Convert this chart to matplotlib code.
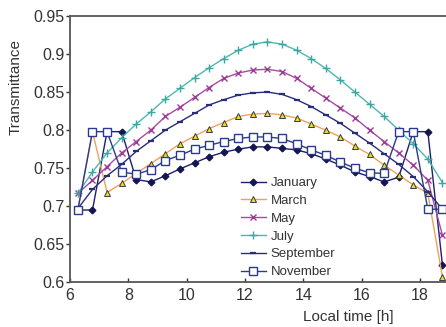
import matplotlib
matplotlib.use("Agg")
import matplotlib.pyplot as plt
from matplotlib.ticker import FixedLocator, FixedFormatter

plt.rcParams['font.family'] = ['Liberation Sans', 'DejaVu Sans']

time_h = [6.27, 6.77, 7.27, 7.77, 8.27, 8.77, 9.27, 9.77, 10.27, 10.77, 11.27, 11.77, 12.27,
          12.77, 13.27, 13.77, 14.27, 14.77, 15.27, 15.77, 16.27, 16.77, 17.27, 17.77, 18.27, 18.77]

january = [0.695, 0.695, 0.798, 0.798, 0.735, 0.732, 0.740, 0.749, 0.757, 0.765, 0.771, 0.775, 0.778,
           0.778, 0.776, 0.774, 0.769, 0.762, 0.754, 0.745, 0.739, 0.732, 0.738, 0.798, 0.798, 0.623]
march = [0.697, 0.798, 0.718, 0.730, 0.743, 0.756, 0.769, 0.782, 0.792, 0.802, 0.810, 0.818, 0.821,
         0.822, 0.820, 0.816, 0.808, 0.800, 0.791, 0.779, 0.768, 0.754, 0.741, 0.728, 0.717, 0.607]
may = [0.717, 0.734, 0.752, 0.770, 0.785, 0.800, 0.818, 0.830, 0.843, 0.856, 0.868, 0.875, 0.879,
       0.880, 0.877, 0.868, 0.855, 0.842, 0.829, 0.816, 0.800, 0.785, 0.770, 0.754, 0.734, 0.662]
july = [0.717, 0.745, 0.770, 0.790, 0.808, 0.824, 0.841, 0.855, 0.869, 0.882, 0.894, 0.905, 0.913,
        0.916, 0.913, 0.905, 0.894, 0.881, 0.866, 0.850, 0.834, 0.818, 0.800, 0.782, 0.762, 0.731]
september = [0.697, 0.722, 0.740, 0.755, 0.772, 0.786, 0.800, 0.811, 0.822, 0.833, 0.840, 0.846, 0.849,
             0.850, 0.847, 0.840, 0.831, 0.820, 0.809, 0.796, 0.783, 0.769, 0.755, 0.739, 0.719, 0.696]
november = [0.695, 0.798, 0.798, 0.745, 0.742, 0.748, 0.760, 0.767, 0.775, 0.780, 0.785, 0.789, 0.791,
            0.791, 0.789, 0.782, 0.774, 0.767, 0.758, 0.750, 0.744, 0.743, 0.798, 0.798, 0.696, 0.696]

x_ticks = [6, 8, 10, 12, 14, 16, 18]
y_ticks = [0.6, 0.65, 0.7, 0.75, 0.8, 0.85, 0.9, 0.95]
y_tick_labels = ["0.6", "0.65", "0.7", "0.75", "0.8", "0.85", "0.9", "0.95"]

fig = plt.figure(figsize=(4.46, 3.27), dpi=100)
ax = fig.add_axes([0.157, 0.1367, 0.85, 0.8144])

ax.plot(time_h, january, color='#1c1f6b', lw=1.0, marker='D', ms=3.4,
        mfc='#141650', mec='#141650', label='January')
ax.plot(time_h, march, color='#f0a060', lw=1.0, marker='^', ms=4.8,
        mfc='#e6e01e', mec='#3a3a3a', mew=0.7, label='March')
ax.plot(time_h, may, color='#a64aa6', lw=1.0, marker='x', ms=5, mew=1.0,
        mec='#a03a9a', label='May')
ax.plot(time_h, july, color='#4cb8b0', lw=1.0, marker='+', ms=6, mew=1.0,
        mec='#3aa8a0', label='July')
ax.plot(time_h, september, color='#2a2d78', lw=1.0, marker='_', ms=5, mew=1.6,
        mec='#2a2d78', label='September')
ax.plot(time_h, november, color='#2b3a8c', lw=1.0, marker='s', ms=5.2,
        mfc='white', mec='#2b3a8c', mew=1.0, label='November')

ax.set_xlim(6, 19)
ax.set_ylim(0.6, 0.95)
ax.xaxis.set_major_locator(FixedLocator(x_ticks))
ax.yaxis.set_major_locator(FixedLocator(y_ticks))
ax.yaxis.set_major_formatter(FixedFormatter(y_tick_labels))

ax.tick_params(axis='x', direction='in', length=3, width=1, labelsize=11.5,
               colors='#333333', pad=4)
ax.tick_params(axis='y', direction='out', length=3, width=1, labelsize=11.5,
               colors='#333333', pad=1)

for side in ['left', 'bottom', 'top']:
    ax.spines[side].set_color('#555555')
    ax.spines[side].set_linewidth(1.3)
ax.spines['right'].set_visible(False)

ax.set_ylabel('Transmittance', fontsize=11, color='#333333')
ax.yaxis.set_label_coords(-0.125, 0.735)
ax.set_xlabel('Local time [h]', fontsize=11, color='#333333')
ax.xaxis.set_label_coords(0.735, -0.105)

leg = ax.legend(loc='upper left', bbox_to_anchor=(0.422, 0.435), frameon=False,
                fontsize=9.5, handlelength=1.9, handletextpad=0.4,
                labelspacing=0.42, borderpad=0.3)
for t in leg.get_texts():
    t.set_color('#333333')

fig.savefig('out.png', dpi=100)
